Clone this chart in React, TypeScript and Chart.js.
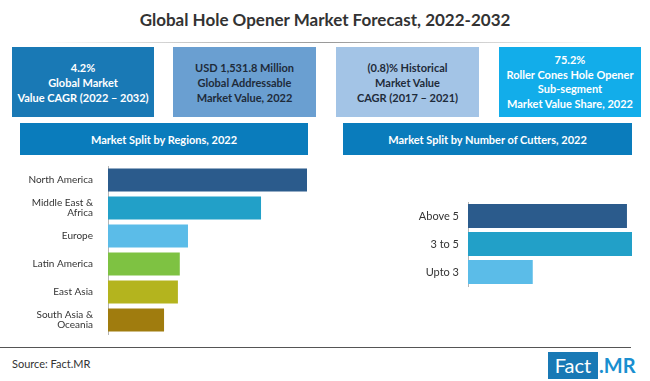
import React, { useEffect, useRef } from "react";
import { Chart, registerables } from "chart.js";

Chart.register(...registerables);

const regionLabels = [
  "North America",
  ["Middle East &", "Africa"],
  "Europe",
  "Latin America",
  "East Asia",
  ["South Asia &", "Oceania"],
];
const regionValues = [31.6, 24.3, 12.7, 11.4, 11.1, 8.9];
const regionColors = ["#2b5b8c", "#22a0c8", "#5bbce8", "#7ec242", "#b4b41e", "#a07c0e"];

const cutterLabels = ["Above 5", "3 to 5", "Upto 3"];
const cutterValues = [41.0, 42.3, 16.7];
const cutterColors = ["#2b5b8c", "#22a0c8", "#5bbce8"];

const FONT = "Lato, 'Open Sans', sans-serif";

function HBar(props: {
  labels: any[];
  values: number[];
  colors: string[];
  axisWidth: number;
  fontSize: number;
  tickPad: number;
  barPct: number;
  padRight: number;
  padTop: number;
  padBottom: number;
  style: React.CSSProperties;
}) {
  const ref = useRef<HTMLCanvasElement | null>(null);
  useEffect(() => {
    if (!ref.current) return;
    const max = Math.max(...props.values);
    const chart = new Chart(ref.current, {
      type: "bar",
      data: {
        labels: props.labels,
        datasets: [
          {
            data: props.values,
            backgroundColor: props.colors,
            barPercentage: props.barPct,
            categoryPercentage: 1,
          },
        ],
      },
      options: {
        indexAxis: "y",
        animation: false,
        responsive: false,
        maintainAspectRatio: false,
        layout: { padding: { right: props.padRight, top: props.padTop, bottom: props.padBottom, left: 0 } },
        plugins: { legend: { display: false }, tooltip: { enabled: false } },
        scales: {
          x: {
            display: false,
            min: 0,
            max: max,
          },
          y: {
            afterFit: (s: any) => {
              s.width = props.axisWidth;
              s.paddingTop = 0;
              s.paddingBottom = 0;
            },
            grid: { display: false, drawTicks: false },
            border: { display: true, color: "#b5b5b5", width: 1 },
            ticks: {
              color: "#333333",
              font: { family: FONT, size: props.fontSize, lineHeight: 1.0 },
              padding: props.tickPad,
            },
          },
        },
      },
    });
    return () => chart.destroy();
  }, []);
  const w = props.style.width as number;
  const h = props.style.height as number;
  return <canvas ref={ref} width={w} height={h} style={{ position: "absolute", ...props.style }} />;
}

const boxBase: React.CSSProperties = {
  position: "absolute",
  top: 47,
  height: 70,
  display: "flex",
  alignItems: "center",
  justifyContent: "center",
  textAlign: "center",
  fontFamily: FONT,
  fontWeight: 700,
  fontSize: 11,
  lineHeight: "15px",
};

const headerBase: React.CSSProperties = {
  position: "absolute",
  top: 123,
  height: 32,
  background: "#0a7cbc",
  color: "#ffffff",
  display: "flex",
  alignItems: "center",
  justifyContent: "center",
  fontFamily: FONT,
  fontWeight: 700,
  fontSize: 11,
};

export default function App() {
  return (
    <div style={{ position: "absolute", left: 0, top: 0, width: 650, height: 381, background: "#ffffff", overflow: "hidden" }}>
      <div
        style={{
          position: "absolute",
          left: 0,
          top: 9,
          width: 650,
          textAlign: "center",
          fontFamily: FONT,
          fontWeight: 700,
          fontSize: 17,
          color: "#333333",
        }}
      >
        Global Hole Opener Market Forecast, 2022-2032
      </div>
      <div
        style={{
          position: "absolute",
          left: 40,
          top: 42,
          width: 570,
          height: 1,
          background: "linear-gradient(to right, rgba(150,150,150,0), #999 50%, rgba(150,150,150,0))",
        }}
      />
      <div style={{ ...boxBase, left: 12, width: 142, background: "#1979b5", color: "#ffffff" }}>
        <div>
          4.2%
          <br />
          Global Market
          <br />
          Value CAGR (2022 – 2032)
        </div>
      </div>
      <div style={{ ...boxBase, left: 173, width: 143, background: "#6a9fd1", color: "#1e2b3a" }}>
        <div>
          USD 1,531.8 Million
          <br />
          Global Addressable
          <br />
          Market Value, 2022
        </div>
      </div>
      <div style={{ ...boxBase, left: 336, width: 143, background: "#a3c4e6", color: "#1e2b3a" }}>
        <div>
          (0.8)% Historical
          <br />
          Market Value
          <br />
          CAGR (2017 – 2021)
        </div>
      </div>
      <div style={{ ...boxBase, left: 499, width: 142, background: "#12adea", color: "#ffffff", lineHeight: "14.5px" }}>
        <div>
          75.2%
          <br />
          Roller Cones Hole Opener
          <br />
          Sub-segment
          <br />
          Market Value Share, 2022
        </div>
      </div>

      <div style={{ ...headerBase, left: 20, width: 288 }}>Market Split by Regions, 2022</div>
      <div style={{ ...headerBase, left: 343, width: 289 }}>Market Split by Number of Cutters, 2022</div>

      <HBar
        labels={regionLabels}
        values={regionValues}
        colors={regionColors}
        axisWidth={108}
        fontSize={10}
        tickPad={15}
        barPct={0.82}
        padRight={3}
        padTop={3}
        padBottom={1}
        style={{ left: 0, top: 163, width: 310, height: 172 }}
      />
      <HBar
        labels={cutterLabels}
        values={cutterValues}
        colors={cutterColors}
        axisWidth={138}
        fontSize={11}
        tickPad={9}
        barPct={0.85}
        padRight={1}
        padTop={2}
        padBottom={7}
        style={{ left: 330, top: 200, width: 303, height: 93 }}
      />

      <div style={{ position: "absolute", left: 0, top: 347, width: 631, height: 1, background: "#555555" }} />
      <div
        style={{
          position: "absolute",
          left: 12,
          top: 357,
          fontFamily: FONT,
          fontSize: 11,
          color: "#333333",
        }}
      >
        Source: Fact.MR
      </div>
      <div
        style={{
          position: "absolute",
          left: 548,
          top: 352,
          height: 27,
          width: 50,
          background: "#1979b5",
          color: "#ffffff",
          fontFamily: FONT,
          fontSize: 20,
          lineHeight: "27px",
          textAlign: "center",
        }}
      >
        Fact
      </div>
      <div
        style={{
          position: "absolute",
          left: 599,
          top: 352,
          height: 27,
          color: "#1a8fd0",
          fontFamily: FONT,
          fontWeight: 700,
          fontSize: 20,
          lineHeight: "27px",
        }}
      >
        .MR
      </div>
    </div>
  );
}
